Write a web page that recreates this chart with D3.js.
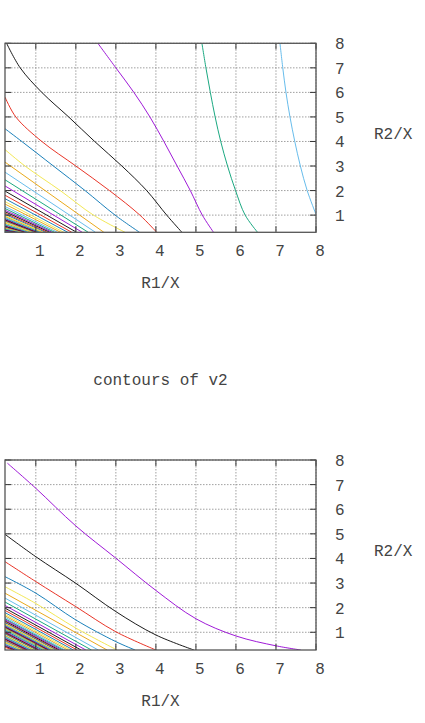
<!DOCTYPE html>
<html>
<head>
<meta charset="utf-8">
<script src="https://cdn.jsdelivr.net/npm/d3@7"></script>
<style>
body { margin: 0; background: #fff; }
svg text { font-family: "Liberation Mono", "Courier New", monospace; font-size: 16px; fill: #444; }
</style>
</head>
<body>
<div id="viz"></div>
<script>
// tick values for both axes
var xTicks = [1, 2, 3, 4, 5, 6, 7, 8];
var yTicks = [1, 2, 3, 4, 5, 6, 7, 8];
var xRange = [0.23, 8];

// gnuplot line colours in the order the contours step through them
var lineColors = ["#9400d3", "#000000", "#e51e10", "#0072b2", "#f0e442", "#e69f00", "#56b4e9", "#009e73"];

// v1: outer contours (x = R1/X, y = R2/X)
var v1Outer = [
    [[7.10, 8], [7.17, 7], [7.25, 6], [7.35, 5], [7.47, 4], [7.61, 3], [7.78, 2], [8, 1.03]],
    [[5.15, 8], [5.25, 7], [5.36, 6], [5.48, 5], [5.62, 4], [5.79, 3], [5.99, 2], [6.23, 1], [6.54, 0.3]],
    [[2.55, 8], [3.0, 7], [3.45, 6], [3.85, 5], [4.2, 4], [4.53, 3], [4.86, 2], [5.16, 1], [5.44, 0.3]],
    [[0.27, 8], [0.61, 7], [1.15, 6], [1.82, 5], [2.47, 4], [3.15, 3], [3.77, 2], [4.27, 1], [4.65, 0.3]],
    [[0.23, 5.81], [0.5, 5], [1.15, 4], [2.0, 3], [2.84, 2], [3.6, 1], [4.02, 0.3]],
    [[0.23, 4.52], [0.65, 4], [1.44, 3], [2.23, 2], [2.98, 1], [3.59, 0.3]],
    [[0.23, 3.67], [0.73, 3], [1.61, 2], [2.44, 1], [3.23, 0.3]]
];
// v1: inner contours, [x where it meets the bottom, y where it meets the left side]
var v1Inner = [
    [2.70, 3.16], [2.49, 2.75], [2.31, 2.44], [2.16, 2.19], [2.02, 1.98], [1.90, 1.81],
    [1.80, 1.67], [1.70, 1.55], [1.62, 1.45], [1.54, 1.35], [1.47, 1.27], [1.41, 1.20],
    [1.35, 1.14], [1.29, 1.08], [1.24, 1.03], [1.20, 0.98], [1.15, 0.94], [1.11, 0.90],
    [1.08, 0.86], [1.04, 0.83], [1.01, 0.80], [0.98, 0.77], [0.95, 0.74], [0.92, 0.72],
    [0.87, 0.67], [0.83, 0.63], [0.79, 0.60], [0.75, 0.56], [0.72, 0.54], [0.69, 0.51],
    [0.66, 0.49], [0.63, 0.47], [0.61, 0.45], [0.58, 0.43], [0.55, 0.41], [0.52, 0.39],
    [0.49, 0.37], [0.46, 0.35], [0.43, 0.33]
];

// v2: outer contours
var v2Outer = [
    [[0.29, 7.87], [1, 6.85], [2, 5.32], [3, 4.01], [4, 2.7], [5, 1.55], [6, 0.85], [7, 0.45], [7.62, 0.28]],
    [[0.23, 4.98], [1, 4.07], [2, 2.99], [3, 1.84], [4, 0.89], [4.95, 0.28]],
    [[0.23, 3.87], [1, 3.06], [2, 2.04], [3, 1.02], [4, 0.28]],
    [[0.23, 3.26], [1, 2.59], [2, 1.5], [3, 0.62], [3.48, 0.28]],
    [[0.23, 2.85], [1, 2.17], [2, 1.17], [3.03, 0.28]]
];
// v2: inner contours
var v2Inner = [
    [2.78, 2.59], [2.56, 2.39], [2.39, 2.23], [2.25, 2.09], [2.13, 1.98], [2.03, 1.89],
    [1.94, 1.80], [1.87, 1.73], [1.80, 1.67], [1.73, 1.61], [1.68, 1.55], [1.63, 1.51],
    [1.58, 1.46], [1.54, 1.42], [1.50, 1.39], [1.46, 1.35], [1.43, 1.32], [1.40, 1.29],
    [1.37, 1.26], [1.34, 1.24], [1.31, 1.21], [1.29, 1.19], [1.26, 1.17], [1.24, 1.15],
    [1.22, 1.13], [1.20, 1.11], [1.16, 1.07], [1.11, 1.03], [1.07, 0.99], [1.04, 0.96],
    [1.01, 0.93], [0.97, 0.89], [0.94, 0.86], [0.90, 0.83], [0.86, 0.79], [0.82, 0.75],
    [0.78, 0.72], [0.74, 0.68], [0.70, 0.64], [0.67, 0.61], [0.63, 0.58], [0.59, 0.54],
    [0.55, 0.50], [0.51, 0.47], [0.47, 0.43], [0.43, 0.39]
];

var svg = d3.select("#viz")
    .append("svg")
    .attr("width", 425)
    .attr("height", 723);

drawPanel("p1", 43.3, 232.3, 0.3, v1Outer, v1Inner, 6, null);
drawPanel("p2", 460, 650, 0.28, v2Outer, v2Inner, 0, "contours of v2");

function drawPanel(id, top, bottom, yMin, outer, inner, colorStart, title) {
    var left = 5, right = 316;
    var x = d3.scaleLinear().domain(xRange).range([left, right]);
    var y = d3.scaleLinear().domain([yMin, 8]).range([bottom, top]);

    var g = svg.append("g");

    g.append("clipPath").attr("id", "clip-" + id)
      .append("rect")
        .attr("x", left).attr("y", top)
        .attr("width", right - left).attr("height", bottom - top);

    // dotted grid
    g.selectAll(".gx").data(xTicks).enter().append("line")
        .attr("x1", function(d){ return x(d); }).attr("x2", function(d){ return x(d); })
        .attr("y1", top).attr("y2", bottom)
        .style("stroke", "#888").style("stroke-width", 0.8).style("stroke-dasharray", "1.5,1.5");
    g.selectAll(".gy").data(yTicks).enter().append("line")
        .attr("y1", function(d){ return y(d); }).attr("y2", function(d){ return y(d); })
        .attr("x1", left).attr("x2", right)
        .style("stroke", "#888").style("stroke-width", 0.8).style("stroke-dasharray", "1.5,1.5");

    // contour lines
    var curves = outer.slice();
    inner.forEach(function(d){ curves.push([[xRange[0], d[1]], [d[0], yMin]]); });

    var line = d3.line()
        .x(function(d){ return x(d[0]); })
        .y(function(d){ return y(d[1]); })
        .curve(d3.curveCatmullRom.alpha(0.5));

    g.append("g").attr("clip-path", "url(#clip-" + id + ")")
      .selectAll("path").data(curves).enter().append("path")
        .attr("d", line)
        .style("fill", "none")
        .style("stroke-width", 0.9)
        .style("stroke", function(d, i){ return lineColors[(colorStart + i) % lineColors.length]; });

    // ticks on all four sides
    var tl = 6;
    g.selectAll(".tb").data(xTicks).enter().append("path")
        .attr("d", function(d){ return "M" + x(d) + "," + bottom + "v" + (-tl) + "M" + x(d) + "," + top + "v" + tl; })
        .style("stroke", "#333").style("stroke-width", 1);
    g.selectAll(".tl").data(yTicks).enter().append("path")
        .attr("d", function(d){ return "M" + left + "," + y(d) + "h" + tl + "M" + right + "," + y(d) + "h" + (-tl); })
        .style("stroke", "#333").style("stroke-width", 1);

    // border
    g.append("rect")
        .attr("x", left).attr("y", top)
        .attr("width", right - left).attr("height", bottom - top)
        .style("fill", "none").style("stroke", "#555").style("stroke-width", 1.3);

    // tick labels
    g.selectAll(".xl").data(xTicks).enter().append("text")
        .attr("x", function(d){ return x(d) + 4; })
        .attr("y", bottom + 24)
        .attr("text-anchor", "middle")
        .text(function(d){ return d; });
    g.selectAll(".yl").data(yTicks).enter().append("text")
        .attr("x", 335)
        .attr("y", function(d){ return y(d) + 6; })
        .text(function(d){ return d; });

    g.append("text")
        .attr("x", 160.5).attr("y", bottom + 56)
        .attr("text-anchor", "middle")
        .text("R1/X");
    g.append("text")
        .attr("x", 374).attr("y", (top + bottom) / 2 + 1)
        .text("R2/X");

    if (title) {
        g.append("text")
            .attr("x", 160.5).attr("y", top - 75)
            .attr("text-anchor", "middle")
            .text(title);
    }
}
</script>
</body>
</html>
